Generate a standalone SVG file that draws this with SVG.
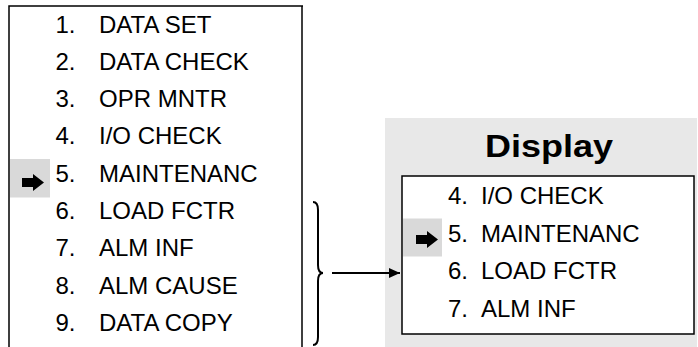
<svg xmlns="http://www.w3.org/2000/svg" width="698" height="347" viewBox="0 0 698 347">
  <defs>
    <style>
      .t { font-family: "Liberation Sans", Arial, sans-serif; font-size: 24px; fill: #000; }
      .title { font-family: "Liberation Sans", Arial, sans-serif; font-size: 31px; font-weight: bold; fill: #000; }
      .frame { fill: none; stroke: #000; stroke-width: 1.5; }
      .hl { fill: #d9d9d9; }
      .conn { fill: none; stroke: #000; stroke-width: 2; }
    </style>
    <marker id="ah" markerWidth="11" markerHeight="10" refX="11" refY="5" orient="auto" markerUnits="userSpaceOnUse">
      <path d="M0,0 L11,5 L0,10 Z" fill="#000"/>
    </marker>
    <path id="ptr" d="M0,-4.5 L11,-4.5 L11,-8.5 L22,0 L11,8.5 L11,4.5 L0,4.5 Z" fill="#000"/>
  </defs>
  <rect width="698" height="347" fill="#fff"/>

  <g id="full-menu">
    <path class="frame" d="M9,347 L9,6 L303,6 M302,6 L302,347"/>
    <rect class="hl" x="10" y="159" width="40" height="38.5"/>
    <use href="#ptr" x="22" y="182.5"/>
    <text class="t" x="55.5" y="32.5">1.</text><text class="t" x="99" y="32.5">DATA SET</text>
    <text class="t" x="55.5" y="69.8">2.</text><text class="t" x="99" y="69.8">DATA CHECK</text>
    <text class="t" x="55.5" y="107.1">3.</text><text class="t" x="99" y="107.1">OPR MNTR</text>
    <text class="t" x="55.5" y="144.4">4.</text><text class="t" x="99" y="144.4">I/O CHECK</text>
    <text class="t" x="55.5" y="181.7">5.</text><text class="t" x="99" y="181.7">MAINTENANC</text>
    <text class="t" x="55.5" y="219">6.</text><text class="t" x="99" y="219">LOAD FCTR</text>
    <text class="t" x="55.5" y="256.3">7.</text><text class="t" x="99" y="256.3">ALM INF</text>
    <text class="t" x="55.5" y="293.6">8.</text><text class="t" x="99" y="293.6">ALM CAUSE</text>
    <text class="t" x="55.5" y="330.9">9.</text><text class="t" x="99" y="330.9">DATA COPY</text>
  </g>

  <g id="display">
    <rect x="385" y="118" width="312" height="229" fill="#e8e8e8"/>
    <text class="title" x="485" y="156.5" textLength="128" lengthAdjust="spacingAndGlyphs">Display</text>
    <rect x="402" y="176" width="292" height="158" fill="#fff" stroke="#000" stroke-width="1.5"/>
    <rect class="hl" x="403" y="218.5" width="39" height="38"/>
    <use href="#ptr" x="416" y="239.5"/>
    <text class="t" x="448" y="204">4.</text><text class="t" x="481" y="204">I/O CHECK</text>
    <text class="t" x="448" y="241.5">5.</text><text class="t" x="481" y="241.5">MAINTENANC</text>
    <text class="t" x="448" y="279">6.</text><text class="t" x="481" y="279">LOAD FCTR</text>
    <text class="t" x="448" y="316.5">7.</text><text class="t" x="481" y="316.5">ALM INF</text>
  </g>

  <g id="connectors">
    <path class="conn" d="M313,202 Q318,202 318,210 L318,265 Q318,273 323,273 Q318,273 318,281 L318,337 Q318,345 313,345"/>
    <line class="conn" x1="332" y1="273" x2="400" y2="273" marker-end="url(#ah)"/>
  </g>
</svg>
